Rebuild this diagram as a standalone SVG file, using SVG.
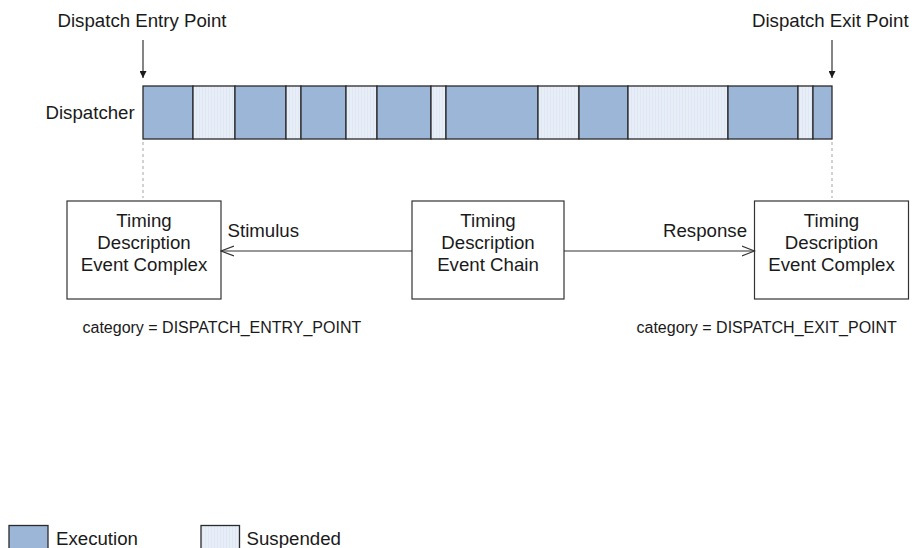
<svg xmlns="http://www.w3.org/2000/svg" width="912" height="548" viewBox="0 0 912 548">
<defs>
<style>
text{font-family:"Liberation Sans",Arial,sans-serif;fill:#1a1a1a}
.t{font-size:18.67px}
.c{font-size:16px}
.m{text-anchor:middle}
.ex{fill:#9bb6d6;stroke:#2a2a2a;stroke-width:1.3}
.su{fill:url(#sp);stroke:#2a2a2a;stroke-width:1.3}
.box{fill:#fff;stroke:#333;stroke-width:1.2}
.dash{stroke:#bbb;stroke-width:1.3;stroke-dasharray:3 3;fill:none}
.ln{stroke:#333;stroke-width:1.2;fill:none}
</style>
<pattern id="sp" width="3" height="3" patternUnits="userSpaceOnUse">
<rect width="3" height="3" fill="#e7eef7"/>
<rect x="1" width="1" height="3" fill="#dfe7f2"/>
</pattern>
<marker id="fa" viewBox="0 0 10 10" refX="10" refY="5" markerWidth="7" markerHeight="7" markerUnits="userSpaceOnUse" orient="auto">
<path d="M0,0 L10,5 L0,10 Z" fill="#1a1a1a"/>
</marker>
<marker id="oa" viewBox="0 0 14 12" refX="13" refY="6" markerWidth="14" markerHeight="12" markerUnits="userSpaceOnUse" orient="auto">
<path d="M0,1 L13,6 L0,11" fill="none" stroke="#333" stroke-width="1.2"/>
</marker>
</defs>
<rect width="912" height="548" fill="#fff"/>

<g id="dispatcher">
<text class="t" x="45.5" y="119">Dispatcher</text>
<rect class="ex" x="143" y="86" width="50" height="53"/>
<rect class="su" x="193" y="86" width="42" height="53"/>
<rect class="ex" x="235" y="86" width="51" height="53"/>
<rect class="su" x="286" y="86" width="15" height="53"/>
<rect class="ex" x="301" y="86" width="45" height="53"/>
<rect class="su" x="346" y="86" width="31" height="53"/>
<rect class="ex" x="377" y="86" width="54" height="53"/>
<rect class="su" x="431" y="86" width="15" height="53"/>
<rect class="ex" x="446" y="86" width="92" height="53"/>
<rect class="su" x="538" y="86" width="41" height="53"/>
<rect class="ex" x="579" y="86" width="49" height="53"/>
<rect class="su" x="628" y="86" width="100" height="53"/>
<rect class="ex" x="728" y="86" width="70" height="53"/>
<rect class="su" x="798" y="86" width="15" height="53"/>
<rect class="ex" x="813" y="86" width="19" height="53"/>
</g>

<g id="entry-label">
<text class="t" x="57.5" y="27">Dispatch Entry Point</text>
</g>
<g id="exit-label">
<text class="t" x="752" y="27">Dispatch Exit Point</text>
</g>

<g id="tdec-entry">
<rect class="box" x="67" y="201" width="154" height="98"/>
<text class="t m" x="144" y="227">Timing</text>
<text class="t m" x="144" y="249">Description</text>
<text class="t m" x="144" y="271">Event Complex</text>
<text class="c" x="82.5" y="333">category = DISPATCH_ENTRY_POINT</text>
</g>

<g id="tdec-chain">
<rect class="box" x="412" y="201" width="152" height="98"/>
<text class="t m" x="488" y="227">Timing</text>
<text class="t m" x="488" y="249">Description</text>
<text class="t m" x="488" y="271">Event Chain</text>
</g>

<g id="tdec-exit">
<rect class="box" x="754.5" y="201" width="154" height="98"/>
<text class="t m" x="831.5" y="227">Timing</text>
<text class="t m" x="831.5" y="249">Description</text>
<text class="t m" x="831.5" y="271">Event Complex</text>
<text class="c" x="636.5" y="333">category = DISPATCH_EXIT_POINT</text>
</g>

<g id="connectors">
<line class="ln" x1="143" y1="40" x2="143" y2="78" marker-end="url(#fa)"/>
<line class="ln" x1="832" y1="40" x2="832" y2="78" marker-end="url(#fa)"/>
<line class="dash" x1="143" y1="142" x2="143" y2="198"/>
<line class="dash" x1="832" y1="142" x2="832" y2="198"/>
<line class="ln" x1="412" y1="251" x2="221" y2="251" marker-end="url(#oa)"/>
<line class="ln" x1="564" y1="251" x2="754.5" y2="251" marker-end="url(#oa)"/>
<text class="t" x="227.5" y="237">Stimulus</text>
<text class="t" x="663" y="237">Response</text>
</g>

<g id="legend">
<rect class="ex" x="9" y="525.5" width="39" height="26" stroke-width="1"/>
<text class="t" x="56" y="545">Execution</text>
<rect class="su" x="201" y="525.5" width="38.5" height="26" stroke-width="1" stroke="#555"/>
<text class="t" x="246.5" y="545">Suspended</text>
</g>
</svg>
